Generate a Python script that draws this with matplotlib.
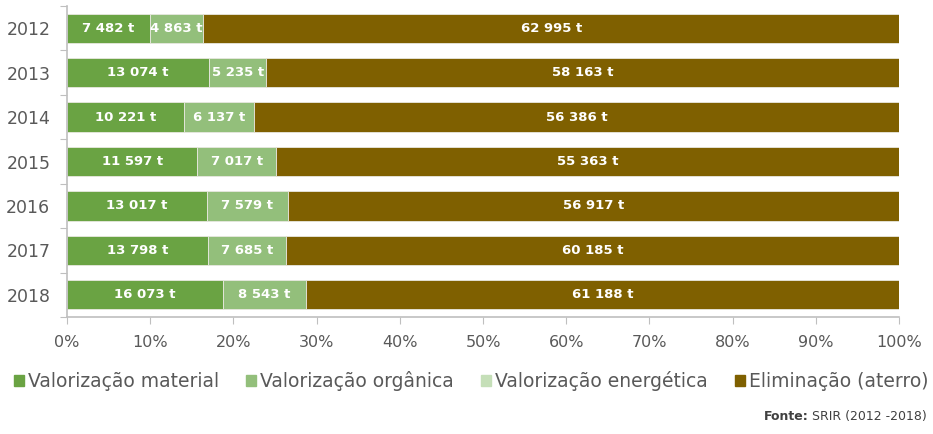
import matplotlib
matplotlib.use("Agg")
import matplotlib.pyplot as plt
import numpy as np
from matplotlib.patches import Patch

years = ["2012", "2013", "2014", "2015", "2016", "2017", "2018"]
material = [7482, 13074, 10221, 11597, 13017, 13798, 16073]
organica = [4863, 5235, 6137, 7017, 7579, 7685, 8543]
energetica = [0, 0, 0, 0, 0, 0, 0]
eliminacao = [62995, 58163, 56386, 55363, 56917, 60185, 61188]

series = [
    ("Valorização material", material, "#6aa343"),
    ("Valorização orgânica", organica, "#93bf7b"),
    ("Valorização energética", energetica, "#c5dfb8"),
    ("Eliminação (aterro)", eliminacao, "#7f6000"),
]

plt.rcParams['font.family'] = ['DejaVu Sans']
grey = "#595959"

fig = plt.figure(figsize=(9.33, 4.34), dpi=100)
ax = fig.add_axes([0.0718, 0.2696, 0.8918, 0.7164])

vals = np.array([s[1] for s in series], dtype=float)
tot = vals.sum(axis=0)
pct = vals / tot * 100
y = np.arange(len(years))
left = np.zeros(len(years))
for (name, raw, col), p in zip(series, pct):
    ax.barh(y, p, left=left, height=0.66, color=col, edgecolor="#e8e8e0", linewidth=0.6)
    for i in range(len(years)):
        if raw[i] > 0:
            txt = f"{raw[i]:,}".replace(",", " ") + " t"
            ax.text(left[i] + p[i] / 2, y[i], txt, ha="center", va="center",
                    color="white", fontsize=9.5, fontweight="bold")
    left += p

ax.set_xlim(0, 100)
ax.set_ylim(len(years) - 0.5, -0.5)
ax.set_xticks(np.arange(0, 101, 10))
ax.set_xticklabels([f"{v}%" for v in range(0, 101, 10)], color=grey, fontsize=11.5)
ax.set_yticks(np.arange(-0.5, len(years), 1))
ax.set_yticklabels([])
ax.set_yticks(y, minor=True)
ax.set_yticklabels(years, minor=True, color=grey, fontsize=12.5)
ax.tick_params(axis="y", which="minor", length=0, pad=12)
ax.tick_params(axis="y", which="major", length=5, color="#bfbfbf", direction="out")
ax.tick_params(axis="x", length=5, color="#bfbfbf", direction="out", pad=8)
for s in ["top", "right"]:
    ax.spines[s].set_visible(False)
for s in ["left", "bottom"]:
    ax.spines[s].set_color("#bfbfbf")
    ax.spines[s].set_linewidth(1.2)

handles = [Patch(color=c, label=n) for n, _, c in series]
leg = fig.legend(handles=handles, loc="center", bbox_to_anchor=(0.505, 0.122), ncol=4,
                 frameon=False, fontsize=13.5, handlelength=0.55, handleheight=0.55,
                 handletextpad=0.2, columnspacing=1.45)
for t in leg.get_texts():
    t.set_color(grey)

src = fig.text(0.993, 0.04, "SRIR (2012 -2018)", ha="right", va="center",
               color="#404040", fontsize=9)
fig.canvas.draw()
bb = src.get_window_extent(fig.canvas.get_renderer())
fig.text((bb.x0 - 3) / fig.bbox.width, 0.04, "Fonte:", ha="right", va="center",
         color="#404040", fontsize=9, fontweight="bold")

fig.savefig("out.png", dpi=100)
